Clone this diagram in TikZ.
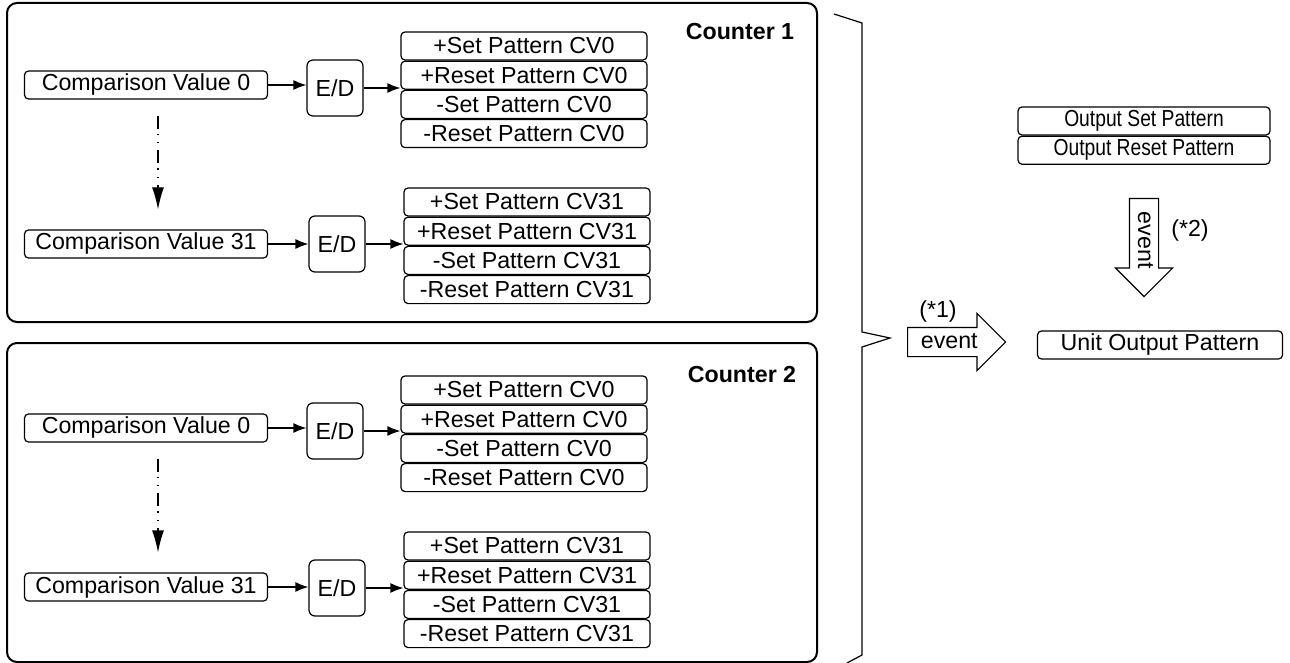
\documentclass[tikz,border=0pt]{standalone}
\usepackage{fontspec}
\setmainfont{Liberation Sans}
\newfontfamily\narrowfont[FakeStretch=0.83]{Liberation Sans}
\usepackage{tikz}
\usetikzlibrary{positioning,arrows.meta,shapes.arrows}
\newcommand{\figfont}{\fontsize{11.6}{13}\selectfont}
\tikzset{
  node-cv/.style={draw,line width=0.6pt,rounded corners=2pt,inner sep=0pt,
    minimum width=121.5pt,minimum height=14pt},
  node-ed/.style={draw,line width=0.6pt,rounded corners=3pt,inner sep=0pt,
    minimum size=28pt},
  node-pat/.style={draw,line width=0.6pt,rounded corners=2pt,inner sep=0pt,
    minimum width=123pt,minimum height=14pt},
  node-out/.style={draw,line width=0.6pt,rounded corners=2pt,inner sep=0pt,
    minimum width=126pt,minimum height=14pt,font=\figfont\narrowfont},
  node-counter/.style={draw,line width=1pt,rounded corners=5pt},
  node-title/.style={font=\figfont\bfseries},
  node-event/.style={single arrow,draw,line width=0.6pt,inner xsep=2pt,inner ysep=0pt,
    text height=10pt,text depth=4pt,minimum height=49pt,
    single arrow head extend=7pt,single arrow tip angle=90},
  arrow/.style={-{Latex[length=6.5pt,width=5pt]},line width=0.6pt},
  arrow-skip/.style={-{Latex[length=11pt,width=6pt]},line width=0.6pt,
    dash pattern=on 6.5pt off 2.5pt on 0.7pt off 3.5pt on 0.7pt off 3.5pt},
}
\begin{document}
\begin{tikzpicture}[x=0.5pt,y=-0.5pt,font=\figfont]
  \useasboundingbox (0,0) rectangle (1290,663);
  % Counter 1
  \draw[node-counter] (7,3) rectangle (817,322);
  \node[node-title] (cnt1) at (740,32) {Counter 1};
  \node[node-cv] (a0) at (146,85) {Comparison Value 0};
  \node[node-ed] (ed0) at (335,88) {E/D};
  \node[node-pat] (p0a) at (524,46) {+Set Pattern CV0};
  \node[node-pat,below=0pt of p0a] (p0b) {+Reset Pattern CV0};
  \node[node-pat,below=0pt of p0b] (p0c) {-Set Pattern CV0};
  \node[node-pat,below=0pt of p0c] (p0d) {-Reset Pattern CV0};
  \node[node-cv] (a31) at (146,244) {Comparison Value 31};
  \node[node-ed] (ed31) at (337,244) {E/D};
  \node[node-pat] (p31a) at (527,202) {+Set Pattern CV31};
  \node[node-pat,below=0pt of p31a] (p31b) {+Reset Pattern CV31};
  \node[node-pat,below=0pt of p31b] (p31c) {-Set Pattern CV31};
  \node[node-pat,below=0pt of p31c] (p31d) {-Reset Pattern CV31};
  \draw[arrow] (a0) -- (a0 -| ed0.west);
  \draw[arrow] (ed0) -- (ed0 -| p0b.west);
  \draw[arrow] (a31) -- (a31 -| ed31.west);
  \draw[arrow] (ed31) -- (ed31 -| p31b.west);
  \draw[arrow-skip,shorten <=8pt,shorten >=10pt] ([xshift=6pt]a0.south) -- ([xshift=6pt]a31.north);
  % Counter 2
  \draw[node-counter] (7,343) rectangle (817,662);
  \node[node-title] (cnt2) at (742,375) {Counter 2};
  \node[node-cv] (b0) at (146,428) {Comparison Value 0};
  \node[node-ed] (fd0) at (335,431) {E/D};
  \node[node-pat] (q0a) at (524,390) {+Set Pattern CV0};
  \node[node-pat,below=0pt of q0a] (q0b) {+Reset Pattern CV0};
  \node[node-pat,below=0pt of q0b] (q0c) {-Set Pattern CV0};
  \node[node-pat,below=0pt of q0c] (q0d) {-Reset Pattern CV0};
  \node[node-cv] (b31) at (146,587) {Comparison Value 31};
  \node[node-ed] (fd31) at (337,588) {E/D};
  \node[node-pat] (q31a) at (527,546) {+Set Pattern CV31};
  \node[node-pat,below=0pt of q31a] (q31b) {+Reset Pattern CV31};
  \node[node-pat,below=0pt of q31b] (q31c) {-Set Pattern CV31};
  \node[node-pat,below=0pt of q31c] (q31d) {-Reset Pattern CV31};
  \draw[arrow] (b0) -- (b0 -| fd0.west);
  \draw[arrow] (fd0) -- (fd0 -| q0b.west);
  \draw[arrow] (b31) -- (b31 -| fd31.west);
  \draw[arrow] (fd31) -- (fd31 -| q31b.west);
  \draw[arrow-skip,shorten <=8pt,shorten >=10pt] ([xshift=6pt]b0.south) -- ([xshift=6pt]b31.north);
  % brace
  \draw[line width=0.6pt] (834,14) -- (862,23) -- (862,332) -- (890,338)
    -- (862,347) -- (862,655) -- (847,663);
  % output side
  \node[node-out] (oset) at (1144,121) {Output Set Pattern};
  \node[node-out,below=0pt of oset] (oreset) {Output Reset Pattern};
  \node[node-pat,minimum width=122.5pt] (unit) at (1160,345) {Unit Output Pattern};
  \node[node-event,anchor=tail] (ev1) at (907,342) {event\hspace{3pt}};
  \node (n1) at (938,311) {(*1)};
  \node[node-event,anchor=tail,rotate=-90] (ev2) at (1144,198) {event};
  \node (n2) at (1190,230) {(*2)};
\end{tikzpicture}
\end{document}
